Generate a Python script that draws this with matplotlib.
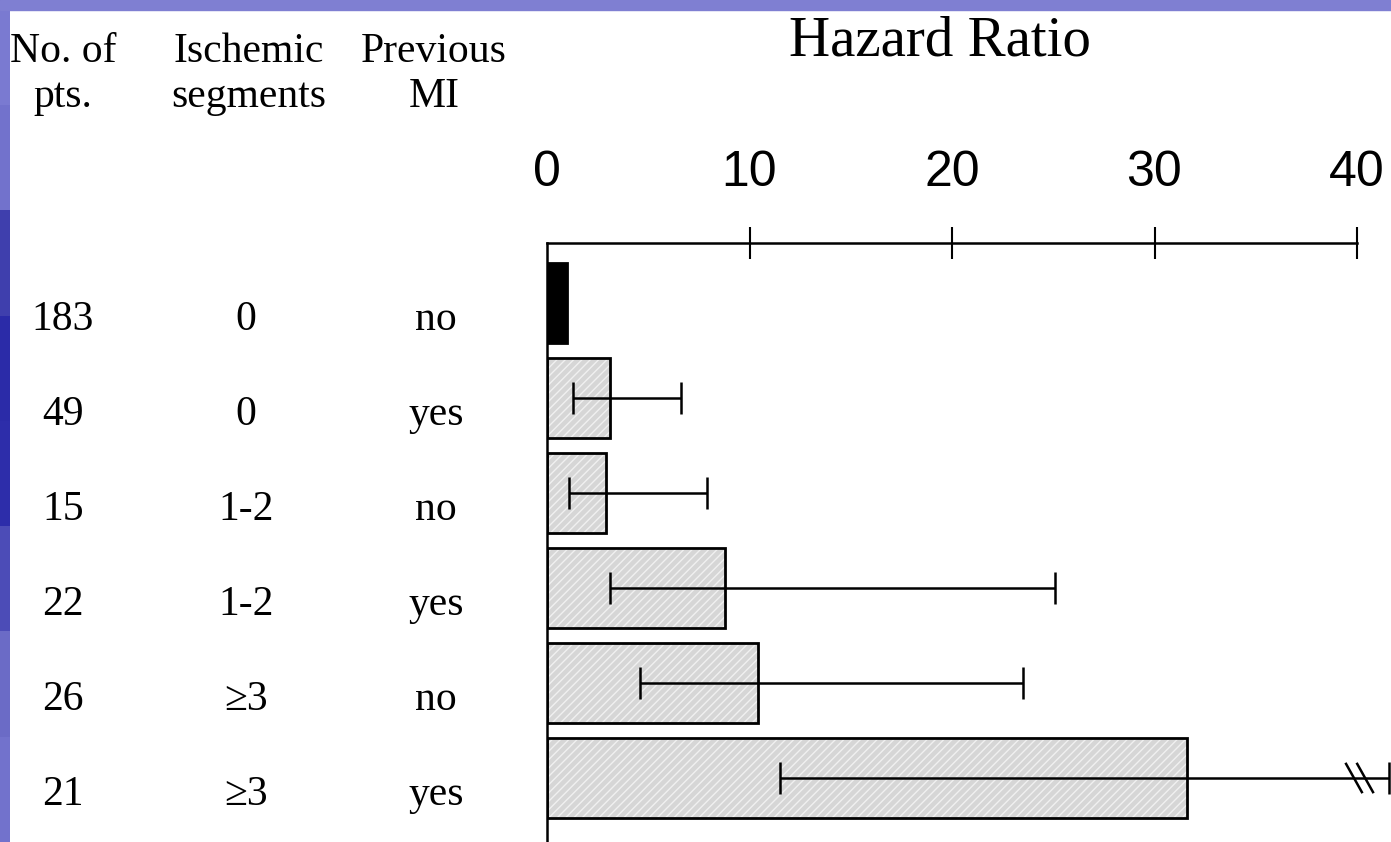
import numpy as np
import matplotlib
matplotlib.use('Agg')
import matplotlib.pyplot as plt
import matplotlib.transforms as mtransforms
from matplotlib import font_manager

# data
n_pts = ['183', '49', '15', '22', '26', '21']
isch_segments = ['0', '0', '1-2', '1-2', '\u22653', '\u22653']
previous_mi = ['no', 'yes', 'no', 'yes', 'no', 'yes']
hazard_ratio = [1.0, 3.1, 2.9, 8.8, 10.4, 31.6]
ci_low = [np.nan, 1.3, 1.1, 3.1, 4.6, 11.5]
ci_high = [np.nan, 6.6, 7.9, 25.1, 23.5, 41.6]   # last one runs off the scale
x_ticks = [0, 10, 20, 30, 40]


def pick_font(names):
    for name in names:
        try:
            font_manager.findfont(name, fallback_to_default=False)
            return name
        except ValueError:
            pass
    return 'DejaVu Sans'


serif = pick_font(['Liberation Serif', 'DejaVu Serif'])
narrow = pick_font(['Liberation Sans Narrow', 'Arial Narrow', 'Liberation Sans'])
narrow_ok = narrow != 'Liberation Sans'

W, H = 1391, 842
fig = plt.figure(figsize=(W / 100, H / 100), dpi=100)
fig.patch.set_facecolor('white')

# slide background: blue strips at top and left
bg = fig.add_axes([0, 0, 1, 1], zorder=-5)
bg.axis('off')
grad = np.array([[0.48, 0.48, 0.82], [0.45, 0.45, 0.80], [0.25, 0.25, 0.68],
                 [0.17, 0.17, 0.66], [0.18, 0.18, 0.67], [0.30, 0.30, 0.72],
                 [0.42, 0.42, 0.78], [0.45, 0.45, 0.80]])
bg.imshow(grad[:, None, :], extent=[0, 10, 0, H], aspect='auto')
bg.add_patch(plt.Rectangle((0, H - 10), W, 10, color='#7f7fd2'))
bg.set_xlim(0, W)
bg.set_ylim(0, H)

# main bar axes
x0_px, px_per_unit = 547, 20.25
top_px, row0_px, row_step = 243, 303, 95
ax = fig.add_axes([x0_px / W, 0, (W - x0_px) / W, 1 - top_px / H])
ax.set_facecolor('none')
ax.set_xlim(0, (W - x0_px) / px_per_unit)
ax.set_ylim((H - row0_px) / row_step, -(row0_px - top_px) / row_step)

rows = np.arange(len(hazard_ratio))
# reference group (solid black) and the other groups (hatched grey)
ax.barh(rows[:1], hazard_ratio[:1], height=0.84, color='black',
        edgecolor='black', linewidth=2.0)
ax.barh(rows[1:], hazard_ratio[1:], height=0.84, color='#d6d6d6',
        edgecolor='#f0f0f0', linewidth=0, hatch='////')
ax.barh(rows[1:], hazard_ratio[1:], height=0.84, fill=False,
        edgecolor='black', linewidth=2.0)

hr = np.array(hazard_ratio)
lo = np.array(ci_low)
hi = np.array(ci_high)
ax.errorbar(hr[1:], rows[1:], xerr=[hr[1:] - lo[1:], hi[1:] - hr[1:]],
            fmt='none', ecolor='black', elinewidth=1.8, capsize=11.5,
            capthick=1.8, clip_on=False)

# break marks on the off-scale interval
for xb in [39.85, 40.4]:
    ax.plot([xb - 0.42, xb + 0.42], [rows[-1] - 0.16, rows[-1] + 0.16],
            color='black', lw=1.8, solid_capstyle='butt')

for side in ['right', 'bottom']:
    ax.spines[side].set_visible(False)
for side in ['top', 'left']:
    ax.spines[side].set_linewidth(1.8)
ax.spines['top'].set_bounds(0, x_ticks[-1])

ax.set_xticks(x_ticks)
ax.set_xticklabels([str(t) for t in x_ticks], fontfamily=narrow,
                   fontsize=38 if narrow_ok else 36)
ax.tick_params(axis='x', bottom=False, labelbottom=False, top=True,
               labeltop=True, direction='inout', length=23, width=1.5, pad=22)
ax.xaxis.get_major_ticks()[0].tick2line.set_visible(False)
ax.set_yticks([])

# row labels
trans = mtransforms.blended_transform_factory(fig.transFigure, ax.transData)
col_x = [63 / W, 246 / W, 436 / W]
for i in rows:
    for cx, col in zip(col_x, [n_pts, isch_segments, previous_mi]):
        ax.text(cx, i + 0.285, col[i], transform=trans, ha='center',
                va='baseline', fontfamily=[serif, 'DejaVu Serif'], fontsize=30)

# column headers
headers = [('No. of', 'pts.'), ('Ischemic', 'segments'), ('Previous', 'MI')]
head_x = [63 / W, 249 / W, 434 / W]
for hx, (l1, l2) in zip(head_x, headers):
    fig.text(hx, 1 - 62 / H, l1, ha='center', va='baseline',
             fontfamily=serif, fontsize=30)
    fig.text(hx, 1 - 107 / H, l2, ha='center', va='baseline',
             fontfamily=serif, fontsize=30)

fig.text(940 / W, 1 - 55 / H, 'Hazard Ratio', ha='center', va='baseline',
         fontfamily=serif, fontsize=41)

fig.savefig('out.png', dpi=100)
